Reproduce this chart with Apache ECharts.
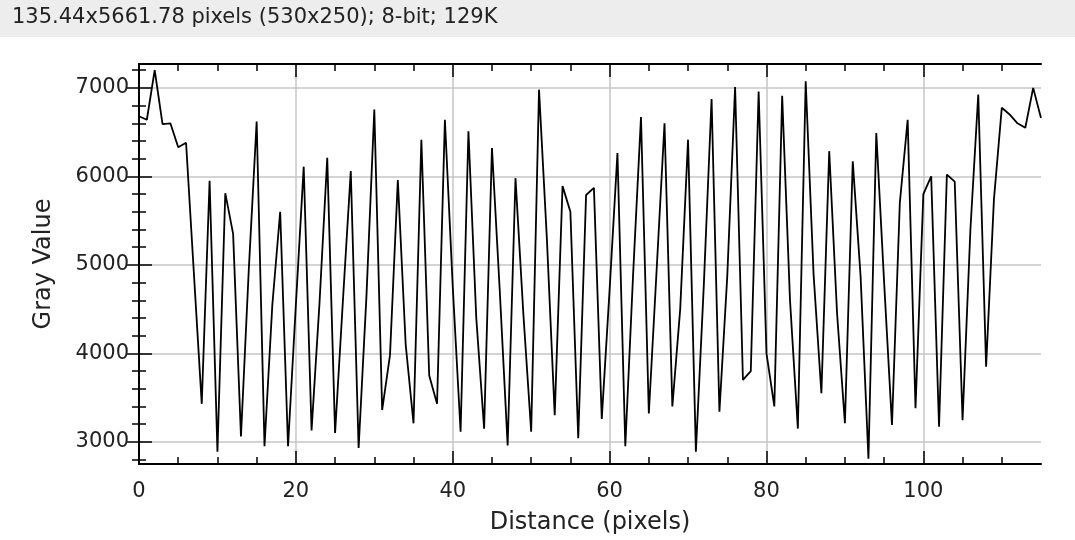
<!DOCTYPE html>
<html><head><meta charset="utf-8">
<script src="https://cdn.jsdelivr.net/npm/echarts@6/dist/echarts.min.js"></script>
<style>html,body{margin:0;padding:0;background:#fff}#c{width:1075px;height:540px}</style>
</head><body><div id="c"></div><script>
const headerText = '135.44x5661.78 pixels (530x250); 8-bit; 129K';
const xTitle = 'Distance (pixels)';
const yTitle = 'Gray Value';
const distance = [0,1,2,3,4,5,6,7,8,9,10,11,12,13,14,15,16,17,18,19,20,21,22,23,24,25,26,27,28,29,30,31,32,33,34,35,36,37,38,39,40,41,42,43,44,45,46,47,48,49,50,51,52,53,54,55,56,57,58,59,60,61,62,63,64,65,66,67,68,69,70,71,72,73,74,75,76,77,78,79,80,81,82,83,84,85,86,87,88,89,90,91,92,93,94,95,96,97,98,99,100,101,102,103,104,105,106,107,108,109,110,111,112,113,114,115];
const grayValue = [6680,6640,7200,6590,6600,6330,6380,4900,3430,5950,2890,5810,5350,3060,4950,6620,2950,4550,5600,2950,4550,6110,3130,4550,6210,3100,4600,6060,2930,4650,6755,3360,3980,5960,4100,3210,6415,3750,3430,6640,4755,3115,6510,4400,3150,6320,4700,2960,5980,4450,3115,6980,5300,3300,5890,5600,3040,5790,5870,3260,4720,6265,2950,4900,6670,3320,4950,6600,3400,4500,6415,2890,4750,6875,3340,4870,7010,3700,3800,6960,4000,3400,6910,4600,3150,7075,4900,3550,6285,4450,3210,6170,4870,2810,6490,4800,3190,5700,6640,3380,5800,6000,3170,6020,5940,3245,5400,6925,3850,5740,6775,6700,6600,6550,7000,6660];
const xMajorTicks = [0,20,40,60,80,100];
const xMinorTicks = [5,10,15,25,30,35,45,50,55,65,70,75,85,90,95,105,110];
const yMajorTicks = [3000,4000,5000,6000,7000];
const yMinorTicks = [2800,3200,3400,3600,3800,4200,4400,4600,4800,5200,5400,5600,5800,6200,6400,6600,6800,7200];
const xRange = [0,115];
const yRange = [2750,7270];

const FONT = 'DejaVu Sans';
const chart = echarts.init(document.getElementById('c'), null, {renderer:'canvas'});
const gridBox = {left:139, right:34, top:64, bottom:76};
function xAx(grid, pos, ticks, len, opts) {
  return Object.assign({
    type:'value', gridIndex:grid, position:pos, min:xRange[0], max:xRange[1], interval:20,
    axisLine:{show:grid===0, lineStyle:{color:'#000', width:2}},
    axisTick:{show:true, inside:true, length:len, customValues:ticks, lineStyle:{color:'#000', width:1.5}},
    axisLabel:{show:false}, splitLine:{show:false}
  }, opts||{});
}
function yAx(grid, pos, ticks, len, opts) {
  return Object.assign({
    type:'value', gridIndex:grid, position:pos, min:yRange[0], max:yRange[1],
    axisLine:{show:grid===0, lineStyle:{color:'#000', width:2}},
    axisTick:{show:true, inside:true, length:len, customValues:ticks, lineStyle:{color:'#000', width:1.5}},
    axisLabel:{show:false}, splitLine:{show:false}
  }, opts||{});
}
chart.setOption({
  animation:false,
  backgroundColor:'#fff',
  title:{text:headerText, left:12, top:7, padding:0,
    textStyle:{fontFamily:FONT, fontSize:21, fontWeight:'normal', color:'#222'}},
  graphic:[{type:'rect', left:0, top:0, z:-1, shape:{width:1075, height:37}, style:{fill:'#ededed'}}],
  grid:[Object.assign({}, gridBox), Object.assign({}, gridBox)],
  xAxis:[
    xAx(0,'bottom',xMajorTicks,13,{
      axisLabel:{show:true, customValues:xMajorTicks, fontFamily:FONT, fontSize:21, color:'#222', margin:17,
        formatter:v=>String(v)},
      splitLine:{show:true, lineStyle:{color:'#c6c6c6', width:1.5}},
      name:xTitle, nameLocation:'middle', nameGap:47,
      nameTextStyle:{fontFamily:FONT, fontSize:24, color:'#222'}
    }),
    xAx(0,'top',xMajorTicks,13),
    xAx(1,'bottom',xMinorTicks,7),
    xAx(1,'top',xMinorTicks,7)
  ],
  yAxis:[
    yAx(0,'left',yMajorTicks,13,{
      axisLabel:{show:true, customValues:yMajorTicks, fontFamily:FONT, fontSize:21, color:'#222', margin:10,
        formatter:v=>String(v)},
      splitLine:{show:true, lineStyle:{color:'#c6c6c6', width:1.5}},
      name:yTitle, nameLocation:'middle', nameGap:83,
      nameTextStyle:{fontFamily:FONT, fontSize:24, color:'#222'}
    }),
    yAx(0,'right',yMajorTicks,13),
    yAx(1,'left',yMinorTicks,7),
    yAx(1,'right',yMinorTicks,7)
  ],
  series:[{
    type:'line', xAxisIndex:0, yAxisIndex:0,
    data: distance.map((d,i)=>[d, grayValue[i]]),
    showSymbol:false, symbol:'none', smooth:false,
    lineStyle:{color:'#000', width:1.8}, z:5
  }]
});
</script></body></html>
